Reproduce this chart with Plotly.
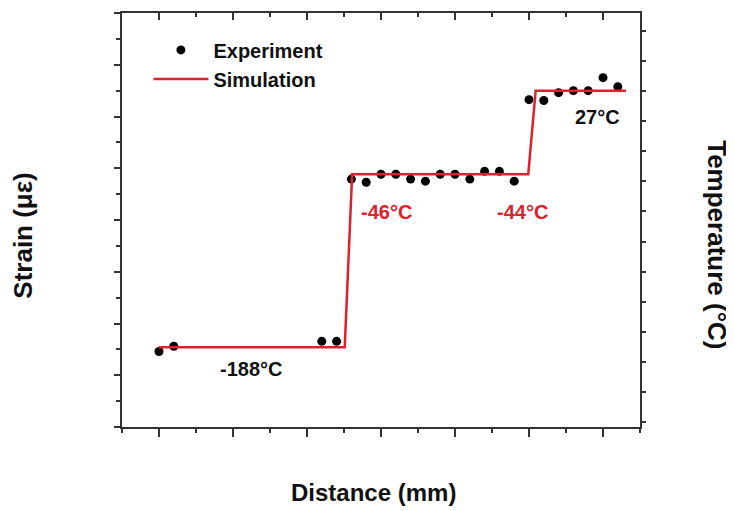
import plotly.graph_objects as go

# Experiment data (distance units, strain units)
exp_x = [0.0, 0.2, 2.2, 2.4, 2.6, 2.8, 3.0, 3.2, 3.4, 3.6, 3.8, 4.0, 4.2, 4.4, 4.6, 4.8,
         5.0, 5.2, 5.4, 5.6, 5.8, 6.0, 6.2]
exp_y = [2.92, 3.12, 3.31, 3.31, 9.58, 9.46, 9.77, 9.77, 9.58, 9.50, 9.77, 9.77, 9.58,
         9.88, 9.88, 9.50, 12.65, 12.62, 12.92, 13.0, 13.0, 13.5, 13.15]

# Simulation step profile
sim_x = [0.0, 2.51, 2.61, 4.99, 5.09, 6.31]
sim_y = [3.08, 3.08, 9.77, 9.77, 13.0, 13.0]

# Temperature labels
lab_text = ["-188°C", "-46°C", "-44°C", "27°C"]
lab_x = [1.24, 3.08, 4.91, 5.93]
lab_y = [2.23, 8.31, 8.31, 12.0]
lab_color = ["#111111", "#e0202a", "#e0202a", "#111111"]

FONT = "Liberation Sans, Arial, sans-serif"
AX = "#333333"

fig = go.Figure()
fig.add_trace(go.Scatter(x=exp_x, y=exp_y, mode="markers", name="<b>Experiment</b>",
                         marker=dict(color="black", size=9)))
fig.add_trace(go.Scatter(x=sim_x, y=sim_y, mode="lines", name="<b>Simulation</b>",
                         line=dict(color="#e0202a", width=2.5)))
# invisible trace to create secondary axes
fig.add_trace(go.Scatter(x=[0], y=[0], xaxis="x2", yaxis="y2", mode="markers",
                         marker=dict(opacity=0), showlegend=False, hoverinfo="skip"))

for t, x, y, c in zip(lab_text, lab_x, lab_y, lab_color):
    fig.add_annotation(x=x, y=y, text=f"<b>{t}</b>", showarrow=False,
                       font=dict(family=FONT, size=20, color=c))

fig.add_annotation(xref="paper", yref="paper", x=-0.224, y=0.462, text="<b>Strain (με)</b>",
                   textangle=-90, showarrow=False, font=dict(family=FONT, size=26, color="#111"))
fig.add_annotation(xref="paper", yref="paper", x=1.18, y=0.441, text="<b>Temperature (°C)</b>",
                   textangle=90, showarrow=False, font=dict(family=FONT, size=26, color="#111"))
fig.add_annotation(xref="paper", yref="paper", x=0.486, y=-0.196, text="<b>Distance (mm)</b>",
                   showarrow=False, font=dict(family=FONT, size=24, color="#111"))

fig.update_layout(
    width=726, height=503,
    margin=dict(l=114, r=94, t=3, b=84),
    plot_bgcolor="white", paper_bgcolor="white",
    showlegend=True,
    legend=dict(x=0.051, y=0.958, xanchor="left", yanchor="top",
                bgcolor="rgba(255,255,255,0)", font=dict(family=FONT, size=20, color="#111"),
                itemwidth=55, tracegroupgap=0),
    xaxis=dict(range=[-0.5, 6.5], showgrid=False, zeroline=False, showline=True,
               linecolor=AX, linewidth=2, mirror=True, ticks="outside", ticklen=8,
               tickwidth=1.5, tickcolor=AX, dtick=1, tick0=0, showticklabels=False,
               minor=dict(ticks="outside", ticklen=4, tickwidth=1.5, tickcolor=AX, dtick=0.5, tick0=-0.5)),
    xaxis2=dict(range=[-0.5, 6.5], overlaying="x", side="top", showgrid=False, zeroline=False,
                showline=False, ticks="inside", ticklen=7, tickwidth=1.5, tickcolor=AX,
                dtick=1, tick0=0, showticklabels=False,
                minor=dict(ticks="inside", ticklen=4, tickwidth=1.5, tickcolor=AX, dtick=0.5, tick0=-0.5)),
    yaxis=dict(range=[0, 16], showgrid=False, zeroline=False, showline=True,
               linecolor=AX, linewidth=2, mirror=True, ticks="outside", ticklen=6,
               tickwidth=1.5, tickcolor=AX, dtick=2, tick0=0, showticklabels=False,
               minor=dict(ticks="outside", ticklen=4, tickwidth=1.5, tickcolor=AX, dtick=1, tick0=0)),
    yaxis2=dict(range=[-0.166, 13.6], overlaying="y", side="right", showgrid=False,
                zeroline=False, showline=False, ticks="outside", ticklen=5, tickwidth=1.5,
                tickcolor=AX, dtick=1, tick0=0, showticklabels=False),
)

fig.write_html("out.html")
